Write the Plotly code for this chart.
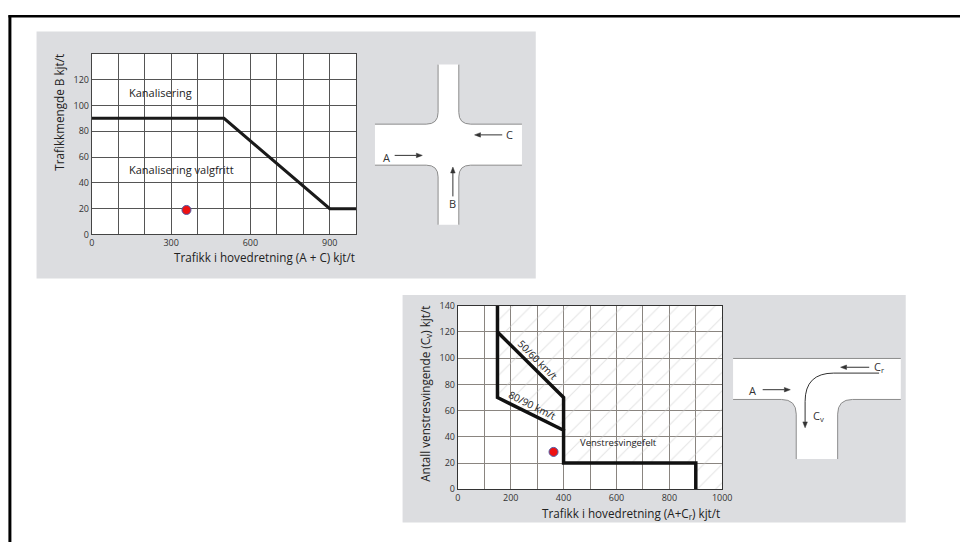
import math
import plotly.graph_objects as go

# ---------------- data ----------------
# Chart 1: Kanalisering threshold (x = A+C, y = B)
c1_line_x = [0, 500, 900, 1000]
c1_line_y = [90, 90, 20, 20]
c1_point_x = [358]
c1_point_y = [19]
c1_yticks = [0, 20, 40, 60, 80, 100, 120]

# Chart 2: Venstresvingefelt thresholds (x = A+Cr, y = Cv)
c2_main_x = [150, 150, 400, 400, 900, 900]
c2_main_y = [140, 70, 45, 20, 20, 0]
c2_5060_x = [150, 400, 400]
c2_5060_y = [120, 70, 45]
c2_hatch_x = [150, 150, 400, 400, 900, 900, 1000, 1000]
c2_hatch_y = [140, 70, 45, 20, 20, 0, 0, 140]
c2_point_x = [362]
c2_point_y = [28.5]

W, H = 970, 548
FONT = "Open Sans"


def fx(p):
    return p / W


def fy(p):
    return 1 - p / H


fig = go.Figure()

fig.add_trace(go.Scatter(x=c1_line_x, y=c1_line_y, mode="lines",
                         line=dict(color="#1a1a1a", width=3), xaxis="x", yaxis="y",
                         hoverinfo="skip", showlegend=False))
fig.add_trace(go.Scatter(x=c1_point_x, y=c1_point_y, mode="markers",
                         marker=dict(color="#ee1111", size=9, line=dict(color="#4a5aa8", width=1)),
                         xaxis="x", yaxis="y", showlegend=False))

fig.add_trace(go.Scatter(x=c2_hatch_x, y=c2_hatch_y, mode="none", fill="toself",
                         fillcolor="rgba(0,0,0,0)",
                         fillpattern=dict(shape="/", size=13, solidity=0.08,
                                          fgcolor="#c9c9c9", bgcolor="rgba(0,0,0,0)"),
                         xaxis="x2", yaxis="y2", hoverinfo="skip", showlegend=False))
fig.add_trace(go.Scatter(x=c2_main_x, y=c2_main_y, mode="lines",
                         line=dict(color="#111111", width=3.5), xaxis="x2", yaxis="y2",
                         hoverinfo="skip", showlegend=False))
fig.add_trace(go.Scatter(x=c2_5060_x, y=c2_5060_y, mode="lines",
                         line=dict(color="#111111", width=3.5), xaxis="x2", yaxis="y2",
                         hoverinfo="skip", showlegend=False))
fig.add_trace(go.Scatter(x=c2_point_x, y=c2_point_y, mode="markers",
                         marker=dict(color="#ee1111", size=9, line=dict(color="#4a5aa8", width=1)),
                         xaxis="x2", yaxis="y2", showlegend=False))

fig.add_trace(go.Scatter(x=[1], y=[1], mode="markers", marker=dict(opacity=0),
                         xaxis="x3", yaxis="y3", hoverinfo="skip", showlegend=False))

axis_common = dict(showgrid=True, gridwidth=1, zeroline=False, ticks="",
                   showline=True, mirror=True, linewidth=1, fixedrange=True,
                   tickfont=dict(family=FONT, size=9, color="#333"))

G1 = "#555555"
G2 = "#8a8580"
fig.update_layout(
    width=W, height=H, margin=dict(l=0, r=0, t=0, b=0),
    paper_bgcolor="white", plot_bgcolor="rgba(0,0,0,0)",
    font=dict(family=FONT, color="#222"),
    xaxis=dict(domain=[fx(90), fx(358)], range=[0, 1000], anchor="y",
               tick0=0, dtick=300, gridcolor=G1, linecolor="#444",
               minor=dict(dtick=100, tick0=0, showgrid=True, gridcolor=G1, gridwidth=1, ticks=""),
               **axis_common),
    yaxis=dict(domain=[fy(233), fy(48)], range=[0, 140], anchor="x",
               tickmode="array", tickvals=c1_yticks,
               gridcolor=G1, linecolor="#444", **axis_common),
    xaxis2=dict(domain=[fx(461), fx(729)], range=[0, 1000], anchor="y2",
                tick0=0, dtick=200, gridcolor=G2, linecolor="#333",
                minor=dict(dtick=100, tick0=0, showgrid=True, gridcolor=G2, gridwidth=1, ticks=""),
                **axis_common),
    yaxis2=dict(domain=[fy(494), fy(306)], range=[0, 140], anchor="x2",
                tick0=0, dtick=20,
                gridcolor=G2, linecolor="#333", **axis_common),
    xaxis3=dict(domain=[0, 1], range=[0, W], visible=False, anchor="y3", fixedrange=True),
    yaxis3=dict(domain=[0, 1], range=[H, 0], visible=False, anchor="x3", fixedrange=True),
)

shapes = []
PANEL = "#dcdde0"
shapes.append(dict(type="rect", xref="paper", yref="paper", x0=fx(34), x1=fx(540),
                   y0=fy(278), y1=fy(25), fillcolor=PANEL, line=dict(width=0), layer="below"))
shapes.append(dict(type="rect", xref="paper", yref="paper", x0=fx(405), x1=fx(915),
                   y0=fy(528), y1=fy(295), fillcolor=PANEL, line=dict(width=0), layer="below"))
shapes.append(dict(type="rect", xref="paper", yref="paper", x0=fx(90), x1=fx(358),
                   y0=fy(233), y1=fy(48), fillcolor="white", line=dict(width=0), layer="below"))
shapes.append(dict(type="rect", xref="paper", yref="paper", x0=fx(461), x1=fx(729),
                   y0=fy(494), y1=fy(306), fillcolor="white", line=dict(width=0), layer="below"))
# outer frame lines (top and left)
shapes.append(dict(type="line", xref="paper", yref="paper", x0=fx(5.5), x1=1, y0=fy(9.5), y1=fy(9.5),
                   line=dict(color="black", width=2.5)))
shapes.append(dict(type="line", xref="paper", yref="paper", x0=fx(7), x1=fx(7), y0=fy(8.5), y1=0,
                   line=dict(color="black", width=3)))

ROAD_LINE = dict(color="#8c8c8c", width=1)
cross_fill = ("M441,59 L462,59 L462,108 Q462,120 474,120 L526,120 L526,162 L474,162 "
              "Q462,162 462,174 L462,223 L441,223 L441,174 Q441,162 429,162 L377,162 "
              "L377,120 L429,120 Q441,120 441,108 Z")
shapes.append(dict(type="path", xref="x3", yref="y3", path=cross_fill,
                   fillcolor="white", line=dict(width=0)))
for p in ["M441,59 L441,108 Q441,120 429,120 L377,120",
          "M462,59 L462,108 Q462,120 474,120 L526,120",
          "M377,162 L429,162 Q441,162 441,174 L441,223",
          "M526,162 L474,162 Q462,162 462,174 L462,223"]:
    shapes.append(dict(type="path", xref="x3", yref="y3", path=p,
                       fillcolor="rgba(0,0,0,0)", line=ROAD_LINE))

t_fill = ("M740,360 L910,360 L910,402 L861,402 Q846,402 846,417 L846,463 L804,463 "
          "L804,417 Q804,402 789,402 L740,402 Z")
shapes.append(dict(type="path", xref="x3", yref="y3", path=t_fill,
                   fillcolor="white", line=dict(width=0)))
for p in ["M740,360 L910,360",
          "M740,402 L789,402 Q804,402 804,417 L804,463",
          "M910,402 L861,402 Q846,402 846,417 L846,463"]:
    shapes.append(dict(type="path", xref="x3", yref="y3", path=p,
                       fillcolor="rgba(0,0,0,0)", line=ROAD_LINE))
shapes.append(dict(type="path", xref="x3", yref="y3",
                   path="M888,375 L842,375 Q813,375 813,404 L813,425",
                   fillcolor="rgba(0,0,0,0)", line=dict(color="#333", width=1)))

ARROW = "#333333"


def arrow(x0, y0, x1, y1, head=6.0, half=2.3, draw_line=True):
    d = math.hypot(x1 - x0, y1 - y0)
    ux, uy = (x1 - x0) / d, (y1 - y0) / d
    bx, by = x1 - ux * head, y1 - uy * head
    px, py = -uy, ux
    out = []
    if draw_line:
        out.append(dict(type="line", xref="x3", yref="y3", x0=x0, y0=y0, x1=bx, y1=by,
                        line=dict(color=ARROW, width=1)))
    tri = "M{:.1f},{:.1f} L{:.1f},{:.1f} L{:.1f},{:.1f} Z".format(
        x1, y1, bx + px * half, by + py * half, bx - px * half, by - py * half)
    out.append(dict(type="path", xref="x3", yref="y3", path=tri, fillcolor=ARROW,
                    line=dict(color=ARROW, width=0.5)))
    return out


for (x0, y0, x1, y1) in [(397, 152, 425, 152), (506, 131, 478, 131), (456, 194, 456, 164),
                         (770, 392, 798, 392), (878, 369, 849, 369)]:
    shapes += arrow(x0, y0, x1, y1)
shapes += arrow(813, 420, 813, 431, draw_line=False)

fig.update_layout(shapes=shapes)

ann = []
TXT = dict(family=FONT, size=11, color="#222")
TITLE = dict(family=FONT, size=11.7, color="#222")
ann.append(dict(x=135, y=110, xref="x", yref="y", text="Kanalisering", showarrow=False,
                xanchor="left", yanchor="middle", font=TXT))
ann.append(dict(x=135, y=50, xref="x", yref="y", text="Kanalisering valgfritt", showarrow=False,
                xanchor="left", yanchor="middle", font=TXT))
ann.append(dict(x=fx(57), y=fy(46), xref="paper", yref="paper", text="Trafikkmengde B kjt/t",
                showarrow=False, textangle=-90, xanchor="center", yanchor="top", font=TITLE))
ann.append(dict(x=fx(359), y=fy(256), xref="paper", yref="paper",
                text="Trafikk i hovedretning (A + C) kjt/t",
                showarrow=False, xanchor="right", yanchor="middle", font=TITLE))
ann.append(dict(x=fx(428), y=fy(396), xref="paper", yref="paper",
                text="Antall venstresvingende (C<sub>v</sub>) kjt/t",
                showarrow=False, textangle=-90, xanchor="center", yanchor="middle", font=TITLE))
ann.append(dict(x=fx(729), y=fy(519), xref="paper", yref="paper",
                text="Trafikk i hovedretning (A+C<sub>r</sub>) kjt/t",
                showarrow=False, xanchor="right", yanchor="middle", font=TITLE))
ann.append(dict(x=608, y=36, xref="x2", yref="y2", text="Venstresvingefelt", showarrow=False,
                font=dict(family=FONT, size=9.5, color="#222")))
ann.append(dict(x=303, y=98.5, xref="x2", yref="y2", text="50/60 km/t", showarrow=False,
                textangle=45, font=dict(family=FONT, size=10, color="#222")))
ann.append(dict(x=281, y=64.5, xref="x2", yref="y2", text="80/90 km/t", showarrow=False,
                textangle=26.6, font=dict(family=FONT, size=10, color="#222")))

LBL = dict(family=FONT, size=11, color="#333")
for (tx, ty, t) in [(389, 154, "A"), (513, 131, "C"), (456, 201, "B"),
                    (760, 393, "A"), (888, 369, "C<sub>r</sub>"), (827, 419, "C<sub>v</sub>")]:
    ann.append(dict(x=tx, y=ty, xref="x3", yref="y3", text=t, showarrow=False, font=LBL))

fig.update_layout(annotations=ann)

fig.write_html("out.html", config={"displayModeBar": False},
               post_script="document.body.style.margin='0';document.body.style.overflow='hidden';")
